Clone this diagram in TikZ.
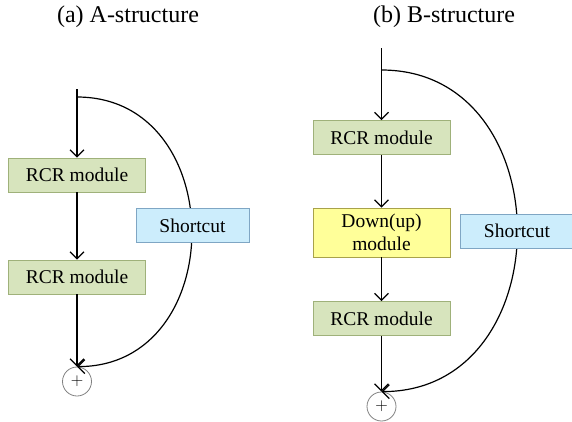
\documentclass[tikz,border=0pt]{standalone}
\usepackage{fontspec}
\setmainfont{Liberation Serif}
\usetikzlibrary{arrows.meta}

\definecolor{rcrfill}{HTML}{D7E4BD}
\definecolor{rcrline}{HTML}{9FB17A}
\definecolor{scfill}{HTML}{CCEDFC}
\definecolor{scline}{HTML}{7FA6C4}
\definecolor{dufill}{HTML}{FFFF99}
\definecolor{duline}{HTML}{A8A24A}

\tikzset{
  flow/.style={line width=1.2pt, -{Straight Barb[length=7pt,width=14pt,line width=1.2pt]}},
  modbox/.style={draw, line width=0.8pt, inner sep=0pt, minimum width=137pt,
    minimum height=34pt, align=center, font=\fontsize{19.5}{23}\selectfont},
  rcrbox/.style={modbox, fill=rcrfill, draw=rcrline},
  dubox/.style={modbox, fill=dufill, draw=duline, minimum height=49pt},
  scbox/.style={modbox, fill=scfill, draw=scline, minimum width=113pt},
  sumnode/.style={circle, draw=black!50, line width=0.8pt, minimum size=29pt,
    inner sep=0pt, font=\fontsize{19}{19}\selectfont},
  title/.style={font=\fontsize{24}{26}\selectfont}
}

\begin{document}
\begin{tikzpicture}[x=1pt, y=-1pt]
  \useasboundingbox (0,0) rectangle (572,421);
  % (a) A-structure
  \node[title] (titA) at (128,17) {(a) A-structure};
  \coordinate (inA) at (77,89);
  \coordinate (tapA) at (77,97);
  \node[rcrbox] (rcrA1) at (77,175) {RCR module};
  \node[rcrbox] (rcrA2) at (77,277) {RCR module};
  \node[sumnode] (sumA) at (77,381.5) {$+$};
  \draw[flow] (inA) -- (rcrA1);
  \draw[flow] (rcrA1) -- (rcrA2);
  \draw[flow] (rcrA2) -- (sumA.north);
  \draw[flow] (tapA) .. controls +(153,0) and +(153,0) .. (sumA.north);
  \node[scbox] (scA) at (192.5,225.5) {Shortcut};
  % (b) B-structure
  \node[title] (titB) at (444,17) {(b) B-structure};
  \coordinate (inB) at (381.5,48);
  \coordinate (tapB) at (381.5,70);
  \node[rcrbox] (rcrB1) at (381.5,137.5) {RCR module};
  \node[dubox] (duB) at (381.5,232.5) {Down(up)\\module};
  \node[rcrbox] (rcrB2) at (381.5,318.5) {RCR module};
  \node[sumnode] (sumB) at (381.5,406.5) {$+$};
  \draw[flow] (inB) -- (rcrB1);
  \draw[flow] (rcrB1) -- (duB);
  \draw[flow] (duB) -- (rcrB2);
  \draw[flow] (rcrB2) -- (sumB.north);
  \draw[flow] (tapB) .. controls +(181,0) and +(181,0) .. (sumB.north);
  \node[scbox] (scB) at (517,231) {Shortcut};
\end{tikzpicture}
\end{document}
